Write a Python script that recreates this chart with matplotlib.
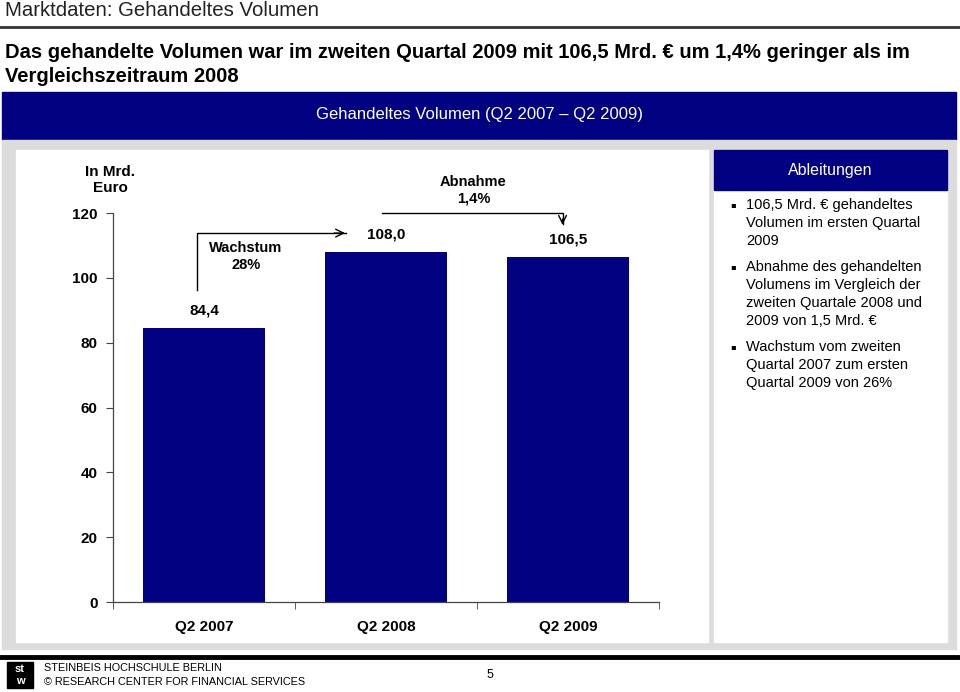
import matplotlib.pyplot as plt
from matplotlib.patches import Rectangle

# data
quarters = ["Q2 2007", "Q2 2008", "Q2 2009"]
volume = [84.4, 108.0, 106.5]
value_labels = ["84,4", "108,0", "106,5"]
y_ticks = [0, 20, 40, 60, 80, 100, 120]
bullets = [
    "106,5 Mrd. € gehandeltes\nVolumen im ersten Quartal\n2009",
    "Abnahme des gehandelten\nVolumens im Vergleich der\nzweiten Quartale 2008 und\n2009 von 1,5 Mrd. €",
    "Wachstum vom zweiten\nQuartal 2007 zum ersten\nQuartal 2009 von 26%",
]

navy = "#000080"
grey = "#dcdcdc"
sans = ["Liberation Sans", "DejaVu Sans"]

fig = plt.figure(figsize=(9.6, 6.92), dpi=100)

# background layer in pixel coordinates
bg = fig.add_axes([0, 0, 1, 1])
bg.set_xlim(0, 960)
bg.set_ylim(692, 0)
bg.axis("off")

bg.text(5, 10, "Marktdaten: Gehandeltes Volumen", fontsize=14.7, family=sans,
        va="center", ha="left", color="#222222")
bg.plot([0, 960], [27, 27], color="#333333", lw=2)
bg.text(5, 53, "Das gehandelte Volumen war im zweiten Quartal 2009 mit 106,5 Mrd. € um 1,4% geringer als im",
        fontsize=14.5, family=sans, fontweight="bold", va="center", ha="left")
bg.text(5, 76, "Vergleichszeitraum 2008", fontsize=14.5, family=sans, fontweight="bold",
        va="center", ha="left")

bg.add_patch(Rectangle((2, 92), 954, 48, color=navy))
bg.text(480, 115, "Gehandeltes Volumen (Q2 2007 – Q2 2009)", fontsize=12, family=sans,
        color="white", ha="center", va="center")

bg.add_patch(Rectangle((2, 140), 954, 509, color=grey))
bg.add_patch(Rectangle((16, 150), 692, 492, color="white"))
bg.add_patch(Rectangle((714, 150), 233, 492, color="white"))
bg.add_patch(Rectangle((714, 150), 233, 40, color=navy))
bg.text(830, 170, "Ableitungen", fontsize=11.5, family=sans, color="white",
        ha="center", va="center")

y = 205
for b in bullets:
    lines = b.split("\n")
    bg.text(733, y, "▪", fontsize=6, family=["DejaVu Sans"], ha="center", va="center")
    for line in lines:
        bg.text(746, y, line, fontsize=10.5, family=sans, ha="left", va="center")
        y += 18
    y += 8

bg.text(110, 180, "In Mrd.\nEuro", fontsize=11, family=sans, fontweight="bold",
        ha="center", va="center", linespacing=1.1)

# footer
bg.plot([0, 960], [657, 657], color="black", lw=3.5)
bg.add_patch(Rectangle((7, 662), 26, 26, color="black"))
bg.text(20, 669, "st", color="white", fontsize=8, fontweight="bold", family=sans,
        ha="center", va="center")
bg.text(20, 681, "w", color="white", fontsize=8, fontweight="bold", family=sans,
        ha="center", va="center")
bg.text(44, 668, "STEINBEIS HOCHSCHULE BERLIN", fontsize=7.8, family=sans, va="center")
bg.text(44, 682, "© RESEARCH CENTER FOR FINANCIAL SERVICES", fontsize=7.8, family=sans, va="center")
bg.text(490, 675, "5", fontsize=9, family=sans, ha="center", va="center")

# chart
ax = fig.add_axes([113 / 960, 90 / 692, 546 / 960, 389 / 692])
ax.patch.set_alpha(0)
x = list(range(len(quarters)))
ax.bar(x, volume, width=0.67, color=navy)
ax.set_xlim(-0.5, 2.5)
ax.set_ylim(0, 120)
for s in ["top", "right"]:
    ax.spines[s].set_visible(False)
for s in ["left", "bottom"]:
    ax.spines[s].set_color("#444444")
    ax.spines[s].set_linewidth(0.9)
ax.set_yticks(y_ticks)
ax.set_yticklabels([str(t) for t in y_ticks], fontsize=11, fontweight="bold", family=sans)
ax.tick_params(axis="y", length=5, pad=6, color="#444444")
ax.set_xticks(x)
ax.set_xticklabels(quarters, fontsize=11, fontweight="bold", family=sans)
ax.tick_params(axis="x", which="major", length=0, pad=13)
ax.set_xticks([-0.5, 0.5, 1.5, 2.5], minor=True)
ax.tick_params(axis="x", which="minor", length=5, color="#444444")

for xi, v, lab in zip(x, volume, value_labels):
    ax.annotate(lab, (xi, v), xytext=(0, 7.5), textcoords="offset points",
                ha="center", va="bottom", fontsize=11, fontweight="bold", family=sans)

# growth arrow Q2 2007 -> Q2 2008
ax.plot([-0.036, -0.036, 0.78], [96.2, 113.8, 113.8], color="black", lw=1, clip_on=False)
ax.annotate("", xy=(0.79, 113.8), xytext=(0.7, 113.8),
            arrowprops=dict(arrowstyle="->", lw=1, color="black", mutation_scale=14),
            annotation_clip=False)
ax.text(0.23, 106.6, "Wachstum\n28%", fontsize=10.5, fontweight="bold", family=sans,
        ha="center", va="center", linespacing=1.2)

# decline arrow Q2 2008 -> Q2 2009
ax.plot([0.98, 1.97, 1.97], [120.0, 120.0, 116.5], color="black", lw=1, clip_on=False)
ax.annotate("", xy=(1.97, 115.5), xytext=(1.97, 119.0),
            arrowprops=dict(arrowstyle="->", lw=1, color="black", mutation_scale=14),
            annotation_clip=False)
ax.text(1.48, 127.1, "Abnahme\n1,4%", fontsize=10.5, fontweight="bold", family=sans,
        ha="center", va="center", linespacing=1.2, clip_on=False)

fig.savefig("out.png", dpi=100)
